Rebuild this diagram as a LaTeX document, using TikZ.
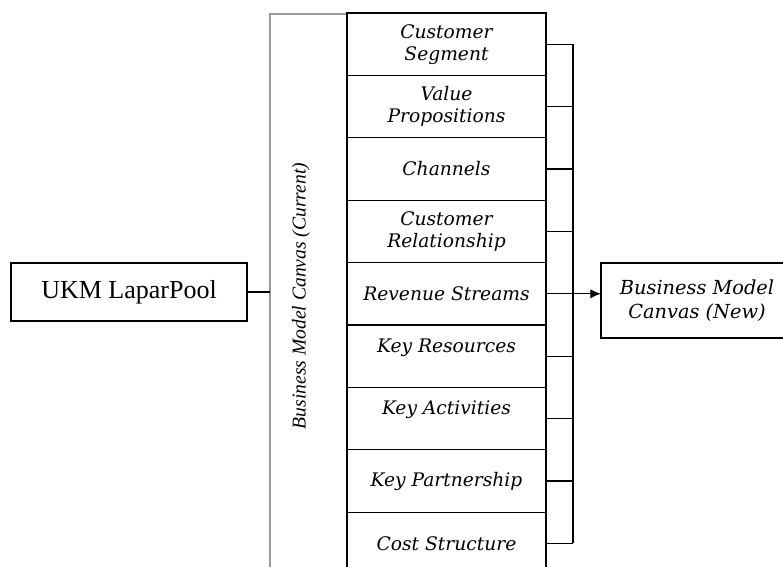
\documentclass[tikz,border=0pt]{standalone}
\usepackage{fontspec}
\setmainfont{Liberation Serif}
\newfontfamily\slabfont{DejaVu Serif}
\usetikzlibrary{arrows.meta}
\usetikzlibrary{positioning}

\tikzset{
  block/.style={draw, line width=1pt, outer sep=0pt, align=center},
  part/.style={block, minimum width=149.25pt, minimum height=46.8pt,
    font=\slabfont\itshape\fontsize{14}{16.5}\selectfont},
}

\begin{document}
\begin{tikzpicture}[x=0.75pt,y=-0.75pt]
\useasboundingbox (0,0) rectangle (783,567);
\begin{scope}
\clip (0,0) rectangle (783,567);

\node[block, minimum width=177pt, minimum height=43.5pt, font=\fontsize{19.5}{22}\selectfont] (ukm) at (129,292) {UKM LaparPool};

% canvas (current) frame with its sideways title
\node[draw=gray!80, line width=0.8pt, outer sep=0pt, minimum width=57.75pt, minimum height=450pt, anchor=north west] (current) at (270,14) {};
\node[rotate=90, font=\itshape\fontsize{14.7}{16}\selectfont] (currentlbl) at (301,296) {Business Model Canvas (Current)};

% the nine blocks of the canvas
\node[part] (r1) at (446.5,44.2) {Customer\\Segment};
\node[part, below=0pt of r1] (r2) {Value\\Propositions};
\node[part, below=0pt of r2] (r3) {Channels};
\node[part, below=0pt of r3] (r4) {Customer\\Relationship};
\node[part, below=0pt of r4] (r5) {Revenue Streams};
\node[part, below=0pt of r5] (r6) {Key Resources\\~};
\node[part, below=0pt of r6] (r7) {Key Activities\\~};
\node[part, below=0pt of r7] (r8) {Key Partnership};
\node[part, below=0pt of r8] (r9) {Cost Structure};

\node[block, minimum width=144pt, minimum height=56.25pt, font=\slabfont\itshape\fontsize{14.5}{18}\selectfont] (new) at (697,300.5) {Business Model\\Canvas (New)};

\draw[line width=0.9pt] (ukm.east) -- (ukm.east -| current.west);

% bracket collecting the blocks
\foreach \i in {1,...,9}
  \draw[line width=0.9pt] (r\i.east) -- ++(20.25pt,0);
\coordinate (bt) at ([xshift=20.25pt]r1.east);
\coordinate (bb) at ([xshift=20.25pt]r9.east);
\draw[line width=0.9pt] (bt) -- (bb);

\draw[line width=0.9pt,-{Latex[length=8pt,width=7pt]}] (r5.east) -- (r5.east -| new.west);
\end{scope}
\end{tikzpicture}
\end{document}
